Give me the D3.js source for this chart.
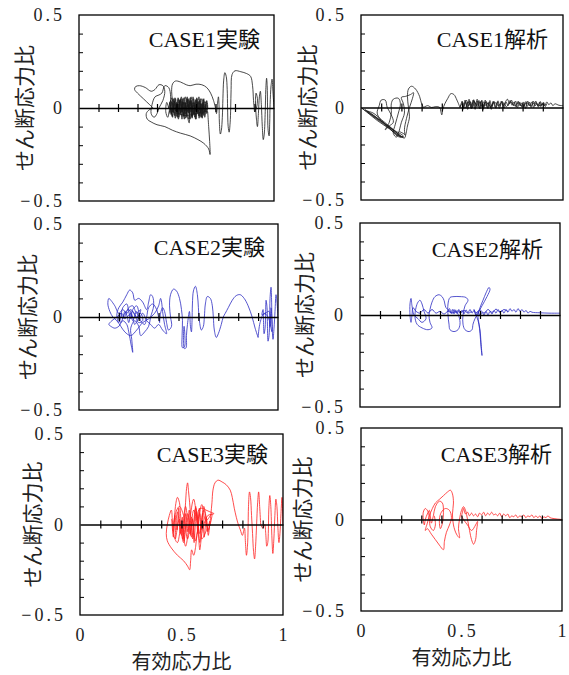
<!DOCTYPE html>
<html>
<head>
<meta charset="utf-8">
<script src="https://cdn.jsdelivr.net/npm/d3@7"></script>
<style>
  html, body { margin: 0; padding: 0; background: #fff; }
  svg { display: block; }
  .jp { font-family: "Noto Sans CJK JP", sans-serif; }
  .num { font-family: "Liberation Serif", "DejaVu Serif", serif; }
  .ttl { font-family: "Liberation Serif", "Noto Sans CJK JP", serif; }
</style>
</head>
<body>
<svg id="chart" width="569" height="675"></svg>
<script>
// ---- data: effective stress ratio (x) vs shear stress ratio (y) ----

const panelTitles = ["CASE1実験", "CASE1解析", "CASE2実験", "CASE2解析", "CASE3実験", "CASE3解析"];
const yTickLabels = [-0.5, 0, 0.5];
const xTickLabels = [0, 0.5, 1];
const yLabel = "せん断応力比";
const xLabel = "有効応力比";

// CASE1 experiment
const case1ExpRight = [[1.00,0.00],[0.995,0.08],[0.99,0.155],[0.985,0.12],[0.98,0.02],[0.978,-0.08],[0.975,-0.15],[0.97,-0.12],[0.967,0.0],[0.965,0.12],[0.962,0.16],[0.958,0.10],[0.955,-0.02],[0.95,-0.14],[0.945,-0.17],[0.94,-0.10],[0.935,0.02],[0.93,0.09],[0.925,0.06],[0.92,-0.03],[0.915,-0.10],[0.91,-0.06],[0.905,0.04],[0.908,0.08],[0.915,0.05],[0.91,0.0],[0.9,-0.02]];
const case1ExpMid = [[0.9,-0.02],[0.895,0.04],[0.89,0.12],[0.88,0.17],[0.86,0.185],[0.83,0.195],[0.80,0.20],[0.785,0.18],[0.78,0.1],[0.778,0.0],[0.775,-0.08],[0.77,-0.13],[0.765,-0.1],[0.762,0.0],[0.76,0.1],[0.755,0.17],[0.748,0.19],[0.742,0.15],[0.738,0.05],[0.735,-0.05],[0.73,-0.12],[0.725,-0.14],[0.72,-0.08],[0.718,0.02],[0.715,0.06],[0.71,0.02],[0.705,-0.03],[0.70,0.0]];
const case1ExpUpper = [[0.70,0.0],[0.69,0.04],[0.675,0.08],[0.655,0.11],[0.63,0.125],[0.60,0.128],[0.57,0.12],[0.55,0.125],[0.52,0.14],[0.495,0.145],[0.48,0.13],[0.475,0.09],[0.48,0.04],[0.49,0.0],[0.51,-0.03],[0.55,-0.04],[0.6,-0.03],[0.64,-0.02],[0.66,-0.02]];
const case1ExpLower = [[0.66,-0.02],[0.665,-0.1],[0.67,-0.18],[0.672,-0.25],[0.665,-0.22],[0.64,-0.19],[0.61,-0.17],[0.57,-0.15],[0.52,-0.135],[0.48,-0.12],[0.44,-0.1],[0.40,-0.09],[0.37,-0.075],[0.35,-0.06],[0.345,-0.03],[0.36,-0.01],[0.38,0.0]];
const case1ExpLeft = [[0.38,0.0],[0.36,0.02],[0.33,0.05],[0.30,0.08],[0.285,0.1],[0.29,0.115],[0.31,0.12],[0.34,0.11],[0.37,0.09],[0.39,0.10],[0.41,0.125],[0.43,0.12],[0.44,0.09],[0.43,0.04],[0.41,0.0],[0.40,-0.03],[0.385,-0.05],[0.37,-0.03],[0.375,0.02],[0.39,0.06],[0.41,0.07],[0.425,0.08],[0.44,0.12],[0.46,0.11],[0.47,0.06],[0.465,0.0],[0.455,-0.05],[0.445,-0.02],[0.45,0.03],[0.46,0.0]];
const case1ExpCore = [[0.46,0.00],[0.47,0.04],[0.48,-0.02],[0.485,0.05],[0.49,-0.04],[0.50,0.03],[0.505,-0.05],[0.515,0.04],[0.52,-0.03],[0.53,0.05],[0.535,-0.04],[0.545,0.03],[0.55,-0.05],[0.56,0.05],[0.565,-0.03],[0.575,0.04],[0.58,-0.05],[0.59,0.03],[0.595,-0.04],[0.605,0.05],[0.61,-0.03],[0.62,0.04],[0.625,-0.05],[0.635,0.03],[0.64,-0.04],[0.65,0.02],[0.655,-0.03],[0.66,0.01],
  [0.655,0.04],[0.645,-0.02],[0.64,0.05],[0.63,-0.05],[0.62,0.02],[0.615,0.06],[0.605,-0.02],[0.60,-0.06],[0.59,0.02],[0.585,0.06],[0.575,-0.01],[0.57,-0.06],[0.56,0.01],[0.555,0.06],[0.545,0.0],[0.54,-0.06],[0.53,0.01],[0.525,0.06],[0.515,0.0],[0.51,-0.06],[0.50,0.01],[0.495,0.05],[0.485,0.0],[0.48,-0.05],[0.47,0.01],[0.465,0.03],
  [0.475,-0.03],[0.49,0.02],[0.50,-0.02],[0.51,0.05],[0.525,-0.04],[0.535,0.02],[0.545,0.06],[0.555,-0.02],[0.565,0.02],[0.575,0.06],[0.585,-0.03],[0.595,0.0],[0.60,0.04],[0.615,-0.04],[0.62,0.0],[0.63,0.05],[0.64,0.0],[0.645,-0.05],[0.65,0.03],
  [0.64,0.03],[0.625,-0.02],[0.61,0.03],[0.595,-0.05],[0.58,0.01],[0.57,0.04],[0.565,-0.08],[0.555,-0.04],[0.54,0.03],[0.53,-0.02],[0.52,0.04],[0.505,-0.03],[0.495,0.02],[0.48,0.04],[0.47,-0.01],[0.5,0.0],
  [0.51,0.02],[0.52,-0.02],[0.535,0.03],[0.545,-0.03],[0.56,0.02],[0.57,-0.02],[0.585,0.03],[0.595,-0.02],[0.605,0.02],[0.62,-0.01],[0.63,0.02],[0.64,-0.03],[0.66,0.0]];
const case1ExpCoreB = [[0.66,0.0],[0.652,0.035],[0.648,-0.015],[0.638,0.045],[0.632,-0.035],[0.626,0.025],[0.618,-0.045],[0.612,0.035],[0.604,-0.025],[0.598,0.045],[0.59,-0.035],[0.584,0.015],[0.578,-0.045],[0.57,0.035],[0.564,-0.015],[0.558,0.045],[0.55,-0.035],[0.544,0.025],[0.538,-0.045],[0.53,0.035],[0.524,-0.025],[0.518,0.045],[0.51,-0.035],[0.504,0.025],[0.498,-0.045],[0.49,0.035],[0.484,-0.025],[0.478,0.03],[0.472,-0.035],[0.468,0.02],
  [0.476,0.055],[0.482,-0.01],[0.492,0.055],[0.5,-0.015],[0.508,0.055],[0.514,-0.01],[0.522,0.05],[0.528,-0.02],[0.538,0.055],[0.546,-0.015],[0.554,0.05],[0.562,-0.025],[0.57,0.055],[0.578,-0.02],[0.588,0.05],[0.596,-0.015],[0.604,0.055],[0.612,-0.02],[0.622,0.05],[0.63,-0.015],[0.638,0.02],
  [0.632,-0.055],[0.624,0.0],[0.616,-0.055],[0.606,0.005],[0.598,-0.06],[0.588,0.0],[0.58,-0.055],[0.572,0.005],[0.562,-0.06],[0.554,0.0],[0.546,-0.055],[0.536,0.005],[0.528,-0.06],[0.52,0.0],[0.512,-0.05],[0.502,0.005],[0.494,-0.055],[0.486,0.0],[0.478,-0.045],[0.47,0.0],[0.462,-0.03]];
const case1Exp = [case1ExpRight, case1ExpMid, case1ExpUpper, case1ExpLower, case1ExpLeft, case1ExpCore, case1ExpCoreB];

// CASE1 analysis
const case1AnaTail = [[1.0,0.01],[0.98,0.012],[0.96,0.02],[0.95,0.01],[0.94,0.025],[0.93,0.015],[0.92,0.03],[0.91,0.01],[0.9,0.025],[0.89,0.005],[0.885,0.03],[0.875,0.01],[0.865,0.035],[0.855,0.0],[0.845,0.03],[0.835,0.01],[0.825,0.035],[0.815,-0.005],[0.805,0.03],[0.795,0.005],[0.785,0.03],[0.775,0.0],[0.765,0.035],[0.755,0.01],[0.745,0.04],[0.735,0.02],[0.725,0.045],[0.715,0.03],[0.705,0.01],[0.695,0.035],[0.685,-0.005],[0.675,0.03],[0.665,0.0],[0.655,0.035],[0.645,-0.01],[0.635,0.03],[0.625,0.0],[0.615,0.04],[0.605,-0.01],[0.595,0.035],[0.585,0.0],[0.575,0.045],[0.565,-0.01],[0.555,0.04],[0.545,-0.005],[0.535,0.045],[0.525,0.0],[0.515,0.04],[0.505,-0.01],[0.5,0.03],[0.49,0.0],
  [0.5,0.02],[0.515,-0.005],[0.53,0.03],[0.545,0.01],[0.56,0.035],[0.575,0.005],[0.59,0.03],[0.6,0.0],[0.62,0.03],[0.64,0.005],[0.66,0.03],[0.68,0.01],[0.7,0.03],[0.72,0.005],[0.74,0.03],[0.76,0.01],[0.78,0.025],[0.8,0.005],[0.82,0.025],[0.84,0.01],[0.86,0.025],[0.88,0.01],[0.9,0.02]];
const case1AnaTailB = [[0.92,0.02],[0.912,0.005],[0.904,0.028],[0.896,0.012],[0.888,0.032],[0.878,0.002],[0.87,0.025],[0.862,0.008],[0.852,0.035],[0.842,0.0],[0.834,0.028],[0.824,0.006],[0.816,0.032],[0.806,0.002],[0.798,0.026],[0.788,0.008],[0.778,0.034],[0.768,0.002],[0.758,0.03],[0.748,0.012],[0.738,0.038],[0.728,0.01],[0.718,0.03],[0.708,-0.004],[0.698,0.032],[0.688,0.006],[0.678,0.036],[0.668,-0.004],[0.658,0.03],[0.648,0.004],[0.638,0.038],[0.628,-0.006],[0.618,0.032],[0.608,0.002],[0.598,0.04],[0.588,-0.008],[0.578,0.035],[0.568,0.0],[0.558,0.042],[0.548,-0.006],[0.538,0.036],[0.528,-0.01],[0.518,0.03],[0.508,0.0],[0.5,0.035],
  [0.51,0.015],[0.522,0.04],[0.532,0.008],[0.542,0.03],[0.552,0.0],[0.562,0.028],[0.574,0.01],[0.584,0.038],[0.594,0.006],[0.606,0.03],[0.618,0.01],[0.63,0.025],[0.642,0.0],[0.654,0.03]];
const case1AnaHump = [[0.49,0.0],[0.475,0.04],[0.46,0.07],[0.445,0.075],[0.43,0.05],[0.415,0.02],[0.405,-0.01],[0.4,-0.04],[0.395,-0.02],[0.39,0.0],[0.37,0.005],[0.35,0.0],[0.33,0.01],[0.31,0.0]];
const case1AnaLoops = [[0.31,0.0],[0.30,0.02],[0.29,0.06],[0.27,0.1],[0.25,0.115],[0.235,0.1],[0.23,0.06],[0.235,0.0],[0.24,-0.05],[0.23,-0.1],[0.22,-0.15],[0.215,-0.12],[0.225,-0.06],[0.24,0.0],[0.255,0.05],[0.26,0.08],[0.245,0.07],[0.22,0.06],[0.2,0.055],[0.21,0.02],[0.215,-0.03],[0.2,-0.08],[0.185,-0.14],[0.175,-0.16],[0.16,-0.14],[0.17,-0.09],[0.185,-0.03],[0.195,0.02],[0.185,0.05],[0.16,0.045],[0.15,0.02],[0.15,-0.03],[0.14,-0.08],[0.12,-0.12],[0.14,-0.1],[0.16,-0.08],[0.15,-0.04],[0.13,0.0],[0.12,0.04],[0.1,0.04],[0.09,0.01],[0.08,-0.03],[0.1,-0.07],[0.14,-0.11],[0.18,-0.155],[0.2,-0.16],[0.18,-0.14],[0.12,-0.09],[0.06,-0.045],[0.03,-0.02],[0.06,-0.03],[0.1,-0.065],[0.15,-0.11],[0.19,-0.15],[0.21,-0.16],[0.19,-0.155],[0.14,-0.115],[0.08,-0.07],[0.04,-0.035],[0.0,0.0]];
const case1AnaBand = [[0.0,0.0],[0.05,-0.04],[0.1,-0.08],[0.15,-0.12],[0.2,-0.16],[0.21,-0.155],[0.16,-0.12],[0.11,-0.08],[0.06,-0.04],[0.02,-0.012],[0.07,-0.05],[0.12,-0.09],[0.17,-0.13],[0.215,-0.165],[0.22,-0.15],[0.19,-0.13]];
const case1Ana = [case1AnaTail, case1AnaTailB, case1AnaHump, case1AnaLoops, case1AnaBand];

// CASE2 experiment
const case2ExpRight = [[1.0,0.0],[0.995,0.08],[0.99,0.12],[0.985,0.03],[0.98,-0.06],[0.975,-0.12],[0.97,-0.04],[0.968,0.08],[0.965,0.16],[0.96,0.1],[0.958,-0.02],[0.955,-0.1],[0.95,-0.13],[0.947,-0.05],[0.945,0.05],[0.94,0.09],[0.938,0.03],[0.935,-0.06],[0.93,-0.09],[0.927,-0.02],[0.925,0.04],[0.92,0.01],[0.955,0.03],[0.96,-0.05],[0.965,0.05],[0.97,-0.08],[0.95,0.0],[0.93,0.02],[0.91,-0.03],[0.9,-0.11]];
const case2ExpMid = [[0.9,-0.11],[0.885,-0.06],[0.87,0.0],[0.85,0.06],[0.83,0.1],[0.81,0.12],[0.79,0.115],[0.77,0.09],[0.75,0.05],[0.735,0.02],[0.725,0.0],[0.715,-0.04],[0.70,-0.09],[0.69,-0.11],[0.68,-0.07],[0.675,0.0],[0.67,0.06],[0.66,0.1],[0.645,0.11],[0.635,0.07],[0.63,0.0],[0.625,-0.05],[0.615,-0.07],[0.605,-0.02],[0.6,0.05],[0.595,0.12],[0.585,0.165],[0.575,0.14],[0.57,0.07],[0.568,-0.02],[0.565,-0.08],[0.56,-0.05],[0.555,0.03],[0.545,-0.04],[0.54,-0.1],[0.538,-0.165],[0.53,-0.17],[0.525,-0.12],[0.528,-0.05],[0.532,-0.1],[0.53,-0.16],[0.52,-0.165],[0.518,-0.1],[0.52,-0.02],[0.515,0.04],[0.505,0.1],[0.49,0.14],[0.475,0.15],[0.46,0.12],[0.455,0.06],[0.46,0.0],[0.465,-0.05],[0.45,-0.07],[0.44,-0.03],[0.43,0.03],[0.42,0.05],[0.41,0.02],[0.405,-0.03]];
const case2ExpLeft = [[0.405,-0.03],[0.39,0.04],[0.37,0.07],[0.35,0.05],[0.34,0.0],[0.33,-0.04],[0.31,-0.02],[0.3,0.03],[0.29,0.06],[0.27,0.04],[0.26,-0.01],[0.25,0.03],[0.24,0.07],[0.22,0.05],[0.21,0.0],[0.2,-0.03],[0.19,0.01],[0.2,0.05],[0.22,0.08],[0.24,0.12],[0.255,0.145],[0.27,0.13],[0.28,0.09],[0.3,0.1],[0.32,0.08],[0.34,0.04],[0.35,0.08],[0.36,0.12],[0.37,0.11],[0.375,0.06],[0.36,0.0],[0.35,-0.05],[0.33,-0.08],[0.31,-0.1],[0.3,-0.05],[0.28,-0.02],[0.26,-0.06],[0.265,-0.12],[0.27,-0.19],[0.262,-0.15],[0.25,-0.08],[0.24,-0.04],[0.22,-0.02],[0.2,-0.05],[0.18,-0.06],[0.16,-0.05],[0.15,-0.04],[0.165,-0.02],[0.19,0.0],[0.215,0.02],[0.23,-0.01],[0.25,0.01],[0.27,0.03],[0.29,0.0],[0.31,0.02],[0.32,-0.02],[0.3,-0.03],[0.28,0.01],[0.26,0.04],[0.24,0.02],[0.22,0.04],[0.2,0.02],[0.18,0.06],[0.16,0.09],[0.15,0.1],[0.145,0.07],[0.155,0.03],[0.17,0.0],[0.19,-0.02],[0.21,-0.05],[0.23,-0.08],[0.26,-0.1],[0.29,-0.07],[0.32,-0.03],[0.35,-0.01],[0.38,0.02],[0.4,0.06],[0.41,0.1],[0.415,0.08],[0.42,0.03],[0.43,-0.04],[0.44,-0.09],[0.42,-0.07],[0.4,-0.04],[0.38,-0.06],[0.36,-0.04],[0.34,-0.02],
  [0.32,0.02],[0.3,-0.01],[0.29,0.03],[0.27,-0.02],[0.26,0.02],[0.25,-0.03],[0.24,0.01],[0.23,0.03],[0.22,-0.01],[0.21,0.02],[0.2,0.0],[0.21,-0.03],[0.23,0.02],[0.25,0.04],[0.27,0.0],[0.28,-0.04],[0.3,0.0],[0.31,0.04],[0.29,0.02],[0.27,0.06],[0.25,0.05],[0.23,0.0]];
const case2Exp = [case2ExpRight, case2ExpMid, case2ExpLeft];

// CASE2 analysis
const case2AnaTail = [[1.0,0.01],[0.95,0.01],[0.9,0.012],[0.86,0.015],[0.85,0.02],[0.84,0.01],[0.83,0.025],[0.82,0.015],[0.81,0.03],[0.8,0.02],[0.79,0.035],[0.78,0.015],[0.77,0.03],[0.76,0.02],[0.75,0.035],[0.74,0.015],[0.73,0.03],[0.72,0.01],[0.71,0.025],[0.7,0.015],[0.69,0.03],[0.68,0.01],[0.67,0.025],[0.66,0.005],[0.65,0.02],[0.64,0.0],[0.63,0.02],[0.62,0.0],[0.61,0.015],[0.6,-0.005],[0.59,0.02],[0.58,0.0],[0.57,0.03]];
const case2AnaLoops = [[0.57,0.03],[0.58,0.0],[0.59,-0.03],[0.6,-0.08],[0.605,-0.15],[0.61,-0.22],[0.605,-0.17],[0.6,-0.1],[0.595,-0.05],[0.59,0.0],[0.6,0.04],[0.615,0.08],[0.63,0.12],[0.645,0.15],[0.65,0.14],[0.635,0.1],[0.61,0.05],[0.59,0.01],[0.575,-0.02],[0.565,-0.05],[0.56,-0.08],[0.545,-0.09],[0.525,-0.08],[0.515,-0.05],[0.515,0.0],[0.525,0.05],[0.54,0.08],[0.53,0.095],[0.5,0.1],[0.47,0.1],[0.45,0.095],[0.44,0.06],[0.44,0.0],[0.445,-0.05],[0.45,-0.08],[0.47,-0.09],[0.49,-0.08],[0.5,-0.05],[0.495,-0.01],[0.48,0.02],[0.46,0.01],[0.45,0.02],[0.43,0.04],[0.42,0.08],[0.41,0.1],[0.395,0.11],[0.375,0.1],[0.36,0.07],[0.35,0.03],[0.345,0.0],[0.35,-0.04],[0.36,-0.07],[0.34,-0.08],[0.31,-0.07],[0.285,-0.05],[0.275,-0.01],[0.28,0.04],[0.29,0.07],[0.3,0.08],[0.31,0.06],[0.32,0.02],[0.33,-0.02],[0.31,-0.04],[0.29,-0.02],[0.27,0.0],[0.26,0.05],[0.255,0.09],[0.25,0.06],[0.25,0.0],[0.255,-0.04],[0.26,0.0],[0.265,0.04],[0.28,0.02],[0.3,0.01],[0.32,0.03],[0.34,0.01],[0.36,0.03],[0.38,0.01],[0.4,0.02],[0.42,0.005],[0.44,0.02],[0.46,0.01],[0.47,0.03],[0.48,0.01],[0.49,0.025],[0.5,0.01],[0.52,0.025],[0.54,0.01],[0.56,0.02]];
const case2AnaNoise = [[0.44,0.02],[0.448,0.035],[0.455,0.01],[0.462,0.03],[0.47,0.005],[0.478,0.028],[0.486,0.008],[0.494,0.03],[0.502,0.01],[0.51,0.026],[0.52,0.006],[0.53,0.028],[0.54,0.012],[0.55,0.03],[0.56,0.01],[0.57,0.025],[0.58,0.012],[0.6,0.028],[0.62,0.01],[0.64,0.03],[0.66,0.014],[0.68,0.032],[0.7,0.015],[0.72,0.03],[0.74,0.018]];
const case2Ana = [case2AnaTail, case2AnaLoops, case2AnaNoise];

// CASE3 experiment
const case3ExpRight = [[1.0,0.0],[0.998,0.08],[0.995,0.15],[0.99,0.06],[0.985,-0.05],[0.98,-0.1],[0.975,-0.02],[0.97,0.1],[0.965,0.14],[0.96,0.05],[0.955,-0.08],[0.95,-0.16],[0.945,-0.06],[0.94,0.1],[0.935,0.16],[0.93,0.08],[0.928,-0.03],[0.925,-0.1],[0.92,-0.12],[0.915,-0.05],[0.91,0.0],[0.9,-0.02],[0.89,0.0]];
const case3ExpMid = [[0.89,0.0],[0.885,0.1],[0.88,0.18],[0.875,0.12],[0.87,0.0],[0.865,-0.12],[0.86,-0.19],[0.855,-0.15],[0.85,-0.05],[0.845,0.05],[0.84,0.15],[0.835,0.18],[0.83,0.1],[0.828,-0.02],[0.825,-0.12],[0.82,-0.17],[0.815,-0.1],[0.81,-0.02],[0.8,-0.06],[0.79,-0.03],[0.78,0.0],[0.77,0.04],[0.76,0.09],[0.75,0.15],[0.74,0.19],[0.72,0.22],[0.7,0.235],[0.68,0.245],[0.665,0.23],[0.655,0.19],[0.65,0.12],[0.645,0.06],[0.64,0.0]];
const case3ExpCore = [[0.64,0.0],[0.63,-0.04],[0.62,0.05],[0.61,0.08],[0.6,0.02],[0.595,-0.06],[0.59,-0.1],[0.585,-0.04],[0.58,0.04],[0.585,0.08],[0.6,0.09],[0.62,0.08],[0.64,0.07],[0.66,0.06],[0.63,0.05],[0.61,0.0],[0.6,-0.05],[0.595,-0.1],[0.59,-0.14],[0.585,-0.08],[0.58,0.0],[0.575,0.06],[0.57,0.1],[0.565,0.05],[0.56,-0.03],[0.555,-0.08],[0.55,-0.02],[0.545,0.05],[0.54,0.12],[0.535,0.18],[0.53,0.23],[0.525,0.2],[0.52,0.12],[0.515,0.04],[0.51,-0.03],[0.505,-0.08],[0.5,-0.02],[0.495,0.06],[0.49,0.12],[0.48,0.15],[0.47,0.1],[0.465,0.03],[0.46,-0.04],[0.455,0.02],[0.45,0.08],[0.44,0.05],[0.43,0.0],[0.425,-0.05],[0.43,-0.09],[0.45,-0.13],[0.48,-0.17],[0.51,-0.2],[0.53,-0.23],[0.54,-0.25],[0.545,-0.2],[0.55,-0.14],[0.56,-0.17],[0.57,-0.12],[0.575,-0.06],[0.58,-0.02],
  [0.56,0.08],[0.54,-0.05],[0.52,0.1],[0.5,-0.06],[0.48,0.07],[0.47,-0.08],[0.49,0.03],[0.51,-0.1],[0.53,0.06],[0.55,-0.07],[0.57,0.09],[0.59,-0.05],[0.61,0.1],[0.63,-0.03],[0.65,0.06],[0.62,0.02],[0.6,0.11],[0.58,0.03],[0.56,0.14],[0.54,0.02],[0.52,-0.12],[0.5,0.0],[0.48,-0.1],[0.46,-0.05],[0.47,0.06],[0.49,0.1],[0.51,0.05],[0.53,-0.08],[0.55,0.04],[0.57,-0.09],[0.59,0.06],[0.6,-0.08],[0.62,-0.04],[0.64,0.02]];
const case3ExpCoreB = [[0.64,0.02],[0.632,-0.06],[0.622,0.04],[0.612,-0.07],[0.604,0.06],[0.596,-0.03],[0.588,0.09],[0.58,-0.05],[0.572,0.07],[0.562,-0.1],[0.554,0.03],[0.546,-0.06],[0.538,0.08],[0.528,-0.04],[0.52,0.06],[0.512,-0.09],[0.504,0.04],[0.494,-0.05],[0.486,0.09],[0.478,-0.03],[0.468,0.05],[0.46,-0.07],[0.452,0.03]];
const case3Exp = [case3ExpRight, case3ExpMid, case3ExpCore, case3ExpCoreB];

// CASE3 analysis
const case3AnaTail = [[1.0,0.0],[0.96,0.005],[0.94,0.01],[0.93,0.02],[0.92,0.01],[0.91,0.015],[0.9,0.005],[0.89,0.02],[0.88,0.01],[0.87,0.02],[0.86,0.01],[0.85,0.025],[0.84,0.015],[0.83,0.02],[0.82,0.01],[0.81,0.025],[0.8,0.015],[0.79,0.02],[0.78,0.01],[0.77,0.025],[0.76,0.015],[0.75,0.02],[0.74,0.01],[0.73,0.03],[0.72,0.02],[0.71,0.03],[0.7,0.015],[0.69,0.035],[0.68,0.02],[0.67,0.03],[0.66,0.025],[0.65,0.04],[0.64,0.025],[0.63,0.035],[0.62,0.02],[0.61,0.04],[0.6,0.025],[0.59,0.035],[0.58,0.015],[0.57,0.03],[0.56,0.02],[0.55,0.035],[0.54,0.02],[0.53,0.04],[0.52,0.03],[0.51,0.06],[0.505,0.04],[0.5,0.02]];
const case3AnaLoops = [[0.5,0.02],[0.51,0.0],[0.53,-0.03],[0.55,-0.06],[0.57,-0.03],[0.58,-0.01],[0.575,-0.06],[0.57,-0.11],[0.56,-0.135],[0.55,-0.11],[0.54,-0.06],[0.53,0.0],[0.52,0.05],[0.51,0.07],[0.5,0.05],[0.49,0.0],[0.485,-0.05],[0.49,-0.1],[0.475,-0.08],[0.46,-0.03],[0.455,0.03],[0.46,0.09],[0.455,0.14],[0.445,0.16],[0.43,0.15],[0.41,0.13],[0.39,0.11],[0.37,0.09],[0.355,0.06],[0.34,0.02],[0.33,-0.02],[0.32,-0.06],[0.33,-0.05],[0.35,-0.08],[0.37,-0.11],[0.39,-0.14],[0.41,-0.165],[0.415,-0.12],[0.425,-0.07],[0.44,-0.03],[0.45,0.01],[0.44,0.05],[0.42,0.06],[0.4,0.04],[0.39,0.0],[0.395,-0.05],[0.405,-0.02],[0.41,0.04],[0.405,0.09],[0.39,0.1],[0.37,0.07],[0.36,0.02],[0.35,-0.02],[0.345,0.02],[0.34,0.05],[0.33,0.03],[0.32,0.0],[0.315,-0.03],[0.31,0.0],[0.31,0.04],[0.32,0.06],[0.335,0.04],[0.34,0.0],[0.345,-0.04],[0.36,-0.06],[0.37,-0.03],[0.365,0.02]];
const case3Ana = [case3AnaTail, case3AnaLoops];

const panelSeries = [case1Exp, case1Ana, case2Exp, case2Ana, case3Exp, case3Ana];

// ---- layout ----
const frames = [
  {l: 79,  t: 15,  r: 274, b: 201, ylx: 25,  tInset: 14, tBase: 32},
  {l: 361, t: 15,  r: 563, b: 200, ylx: 308, tInset: 15, tBase: 32},
  {l: 79,  t: 224, r: 278, b: 410, ylx: 28,  tInset: 13, tBase: 31},
  {l: 360, t: 223, r: 560, b: 407, ylx: 305, tInset: 17, tBase: 34},
  {l: 80,  t: 434, r: 283, b: 615, ylx: 33,  tInset: 15, tBase: 28},
  {l: 361, t: 428, r: 562, b: 611, ylx: 303, tInset: 10, tBase: 34}
];
const colors = ["#1a1a1a", "#1a1a1a", "#2b2bc2", "#2b2bc2", "#ff1f1f", "#ff1f1f"];

const svg = d3.select("#chart");
const fmt = v => v === 0 ? "0" : (v < 0 ? "\u2212" : "") + (Math.abs(v) === 1 ? "1" : Math.abs(v).toFixed(1));

frames.forEach((f, i) => {
  const x = d3.scaleLinear().domain([0, 1]).range([f.l, f.r]);
  const y = d3.scaleLinear().domain([-0.5, 0.5]).range([f.b, f.t]);
  const g = svg.append("g");

  const clipId = "clip" + i;
  g.append("clipPath").attr("id", clipId)
    .append("rect").attr("x", f.l).attr("y", f.t).attr("width", f.r - f.l).attr("height", f.b - f.t);

  // stress paths
  const line = d3.line().x(d => x(d[0])).y(d => y(d[1])).curve(d3.curveCatmullRom.alpha(0.5));
  g.append("g").attr("clip-path", `url(#${clipId})`)
    .selectAll("path").data(panelSeries[i]).join("path")
    .attr("d", line)
    .attr("fill", "none")
    .attr("stroke", colors[i])
    .attr("stroke-width", 0.8)
    .attr("stroke-linejoin", "round");

  // zero line with crossing ticks
  const xAxis = d3.axisBottom(x).tickValues(d3.range(1, 10).map(k => k / 10)).tickFormat("").tickSizeOuter(0);
  const xa = g.append("g").attr("transform", `translate(0,${y(0)})`).call(xAxis);
  xa.select(".domain").attr("stroke", "#000").attr("stroke-width", 1.5);
  xa.selectAll(".tick line").attr("y1", -4).attr("y2", 4).attr("stroke", "#000").attr("stroke-width", 1.2);

  // inner ticks on the left frame
  const yAxis = d3.axisRight(y).tickValues([-0.4, -0.3, -0.2, -0.1, 0.1, 0.2, 0.3, 0.4]).tickFormat("").tickSize(4).tickSizeOuter(0);
  const ya = g.append("g").attr("transform", `translate(${f.l},0)`).call(yAxis);
  ya.select(".domain").remove();
  ya.selectAll(".tick line").attr("stroke", "#000").attr("stroke-width", 1);

  // frame
  g.append("rect").attr("x", f.l).attr("y", f.t).attr("width", f.r - f.l).attr("height", f.b - f.t)
    .attr("fill", "none").attr("stroke", "#000").attr("stroke-width", 1.3);

  // y tick labels
  g.selectAll("text.ylab").data(yTickLabels).join("text")
    .attr("class", "num")
    .attr("x", f.l - 14)
    .attr("y", d => y(d))
    .attr("dy", "0.35em")
    .attr("text-anchor", "end")
    .attr("font-size", 18)
    .attr("letter-spacing", 3)
    .attr("fill", "#222")
    .text(fmt);

  // y axis title
  g.append("text").attr("class", "jp")
    .attr("transform", `translate(${f.ylx},${(f.t + f.b) / 2}) rotate(-90)`)
    .attr("text-anchor", "middle").attr("dy", "0.35em")
    .attr("font-size", 21).attr("fill", "#222")
    .text(yLabel);

  // panel title
  g.append("text").attr("class", "ttl")
    .attr("x", f.r - f.tInset).attr("y", f.t + f.tBase)
    .attr("text-anchor", "end").attr("font-size", 22).attr("fill", "#111")
    .text(panelTitles[i]);

  // bottom row: x tick labels and x axis title
  if (i >= 4) {
    g.selectAll("text.xlab").data(xTickLabels).join("text")
      .attr("class", "num")
      .attr("x", d => x(d))
      .attr("y", f.b + 26)
      .attr("text-anchor", "middle")
      .attr("font-size", 18)
      .attr("letter-spacing", 3)
      .attr("dx", 1.5)
      .attr("fill", "#222")
      .text(fmt);
    g.append("text").attr("class", "jp")
      .attr("x", (f.l + f.r) / 2).attr("y", f.b + 47)
      .attr("text-anchor", "middle").attr("dy", "0.35em")
      .attr("font-size", 20).attr("fill", "#222")
      .text(xLabel);
  }
});
</script>
</body>
</html>
